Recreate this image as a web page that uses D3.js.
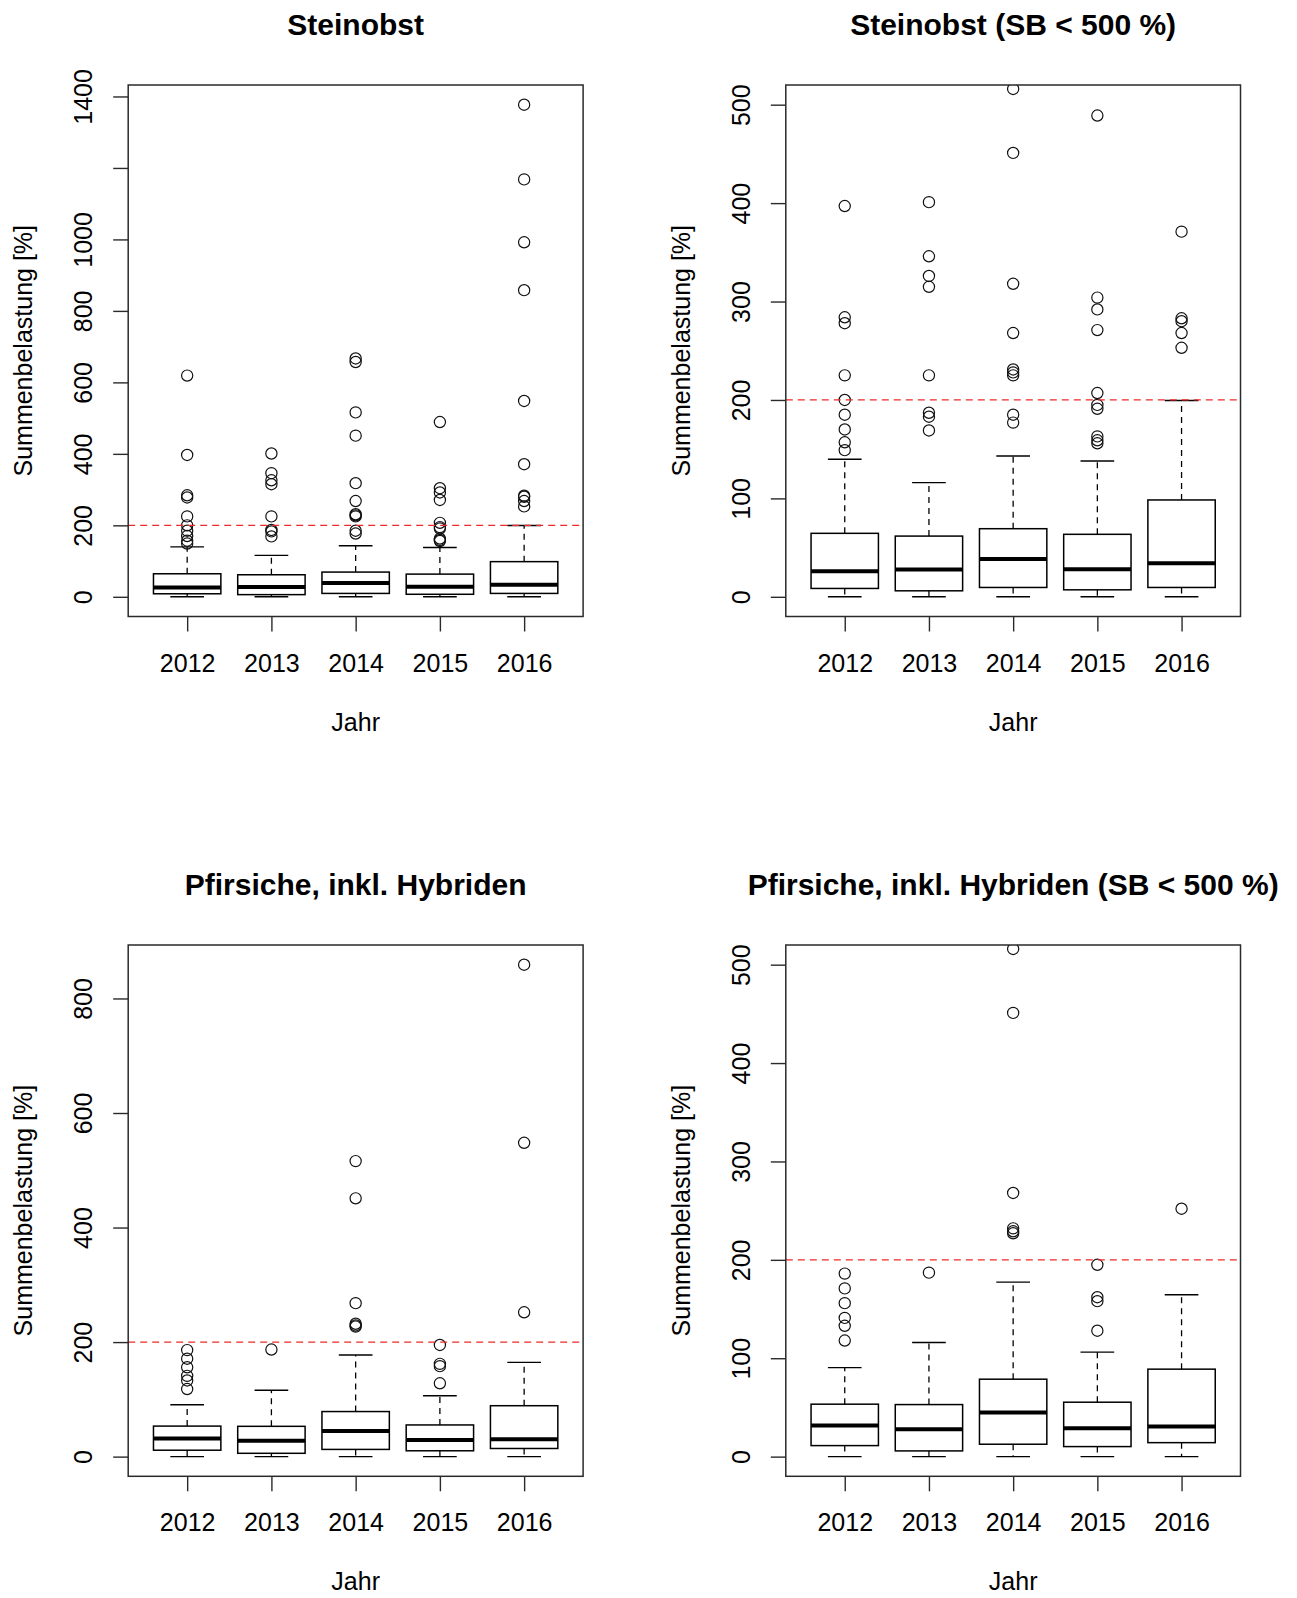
<!DOCTYPE html>
<html><head><meta charset="utf-8">
<script src="https://cdn.jsdelivr.net/npm/d3@7"></script>
<style>body{margin:0;background:#fff}svg{display:block}</style>
</head><body>
<svg id="chart" width="1297" height="1598"></svg>
<script>
// ---------- data ----------
const years = ["2012", "2013", "2014", "2015", "2016"];

// Steinobst
const steinWhiskerLow  = [0, 0, 0, 0, 0];
const steinQ1          = [8.5, 6.1, 9.5, 7.1, 9.5];
const steinMedian      = [26, 27.8, 38.4, 27.9, 34];
const steinQ3          = [64.5, 61.7, 69.2, 63.5, 98.4];
const steinWhiskerHigh = [139.7, 116, 143, 138, 199.4];
const steinOutliers = [
  [619, 397, 284, 278, 225, 200, 185, 170, 157, 149],
  [401, 346, 326, 315, 225, 187, 183, 169],
  [667, 657, 516, 451, 318, 268, 231, 228, 225, 185, 177],
  [489, 304, 292, 271, 207, 195, 191, 163, 159, 156],
  [1377, 1168, 992, 858, 548, 371, 283, 280, 268, 253]
];

// Pfirsiche, inkl. Hybriden
const pfirWhiskerLow  = [0, 0, 0, 0, 0];
const pfirQ1          = [11.2, 5.8, 12.6, 10.2, 14.2];
const pfirMedian      = [31.6, 27.9, 44.8, 28.9, 30.5];
const pfirQ3          = [53.3, 52.9, 78.7, 55.3, 88.9];
const pfirWhiskerHigh = [90.5, 116, 177.4, 106.2, 164.5];
const pfirOutliers = [
  [186, 171, 156, 141, 133, 118],
  [187],
  [516, 451, 268, 232, 229, 227],
  [195, 162, 158, 128],
  [859, 548, 252]
];

const threshold = 200;
const zoomLimit = 500;

const steinTicks = [0, 200, 400, 600, 800, 1000, 1200, 1400];
const steinTickLabels = ["0", "200", "400", "600", "800", "1000", "", "1400"];
const zoomTicks = [0, 100, 200, 300, 400, 500];
const zoomTickLabels = ["0", "100", "200", "300", "400", "500"];
const pfirTicks = [0, 200, 400, 600, 800];
const pfirTickLabels = ["0", "200", "400", "600", "800"];

const titles = [
  "Steinobst",
  "Steinobst (SB < 500 %)",
  "Pfirsiche, inkl. Hybriden",
  "Pfirsiche, inkl. Hybriden (SB < 500 %)"
];
const xLabel = "Jahr";
const yLabel = "Summenbelastung [%]";

// ---------- layout ----------
const colLeft = [128.2, 785.8], colRight = [583.1, 1240.5];
const rowTop = [85, 945], rowBottom = [616.5, 1476.3];
const titleBase = [35, 895];
const FONT = "'Liberation Sans', Arial, Helvetica, sans-serif";

function makeStats(lo, q1, med, q3, hi, out) {
  return years.map((y, i) => ({year: y, idx: i + 1, lo: lo[i], q1: q1[i], med: med[i], q3: q3[i], hi: hi[i], out: out[i]}));
}
const steinStats = makeStats(steinWhiskerLow, steinQ1, steinMedian, steinQ3, steinWhiskerHigh, steinOutliers);
const pfirStats = makeStats(pfirWhiskerLow, pfirQ1, pfirMedian, pfirQ3, pfirWhiskerHigh, pfirOutliers);

const panels = [
  {title: titles[0], stats: steinStats, limit: null, ticks: steinTicks, labels: steinTickLabels, col: 0, row: 0},
  {title: titles[1], stats: steinStats, limit: zoomLimit, ticks: zoomTicks, labels: zoomTickLabels, col: 1, row: 0},
  {title: titles[2], stats: pfirStats, limit: null, ticks: pfirTicks, labels: pfirTickLabels, col: 0, row: 1},
  {title: titles[3], stats: pfirStats, limit: zoomLimit, ticks: zoomTicks, labels: zoomTickLabels, col: 1, row: 1}
];

const svg = d3.select("#chart");
const defs = svg.append("defs");

panels.forEach((p, pi) => {
  const L = colLeft[p.col], R = colRight[p.col], T = rowTop[p.row], B = rowBottom[p.row];
  const hiVal = p.limit != null ? p.limit : d3.max(p.stats, s => d3.max([s.hi, ...s.out]));
  const loVal = 0;
  const ext = 0.04 * (hiVal - loVal);
  const y = d3.scaleLinear().domain([loVal - ext, hiVal + ext]).range([B, T]);
  const n = years.length;
  const xExt = 0.04 * n;
  const x = d3.scaleLinear().domain([0.5 - xExt, n + 0.5 + xExt]).range([L, R]);
  const unit = x(2) - x(1);
  const boxHalf = 0.4 * unit, capHalf = 0.2 * unit;

  const g = svg.append("g");
  const clipId = "clip" + pi;
  defs.append("clipPath").attr("id", clipId)
    .append("rect").attr("x", L).attr("y", T).attr("width", R - L).attr("height", B - T);

  // title
  g.append("text").attr("x", (L + R) / 2).attr("y", titleBase[p.row])
    .attr("text-anchor", "middle").attr("font-family", FONT).attr("font-weight", "bold")
    .attr("font-size", 30).attr("fill", "#000").text(p.title);

  const plot = g.append("g").attr("clip-path", `url(#${clipId})`);

  // boxes
  p.stats.forEach(s => {
    const cx = x(s.idx);
    // whiskers (dashed)
    plot.append("line").attr("x1", cx).attr("x2", cx).attr("y1", y(s.q3)).attr("y2", y(s.hi))
      .attr("stroke", "#000").attr("stroke-width", 1.3).attr("stroke-dasharray", "6,5");
    plot.append("line").attr("x1", cx).attr("x2", cx).attr("y1", y(s.q1)).attr("y2", y(s.lo))
      .attr("stroke", "#000").attr("stroke-width", 1.3).attr("stroke-dasharray", "6,5");
    // staples
    [s.hi, s.lo].forEach(v => {
      plot.append("line").attr("x1", cx - capHalf).attr("x2", cx + capHalf).attr("y1", y(v)).attr("y2", y(v))
        .attr("stroke", "#000").attr("stroke-width", 1.4);
    });
    // box
    plot.append("rect").attr("x", cx - boxHalf).attr("width", 2 * boxHalf)
      .attr("y", y(s.q3)).attr("height", y(s.q1) - y(s.q3))
      .attr("fill", "none").attr("stroke", "#000").attr("stroke-width", 1.5);
    // median
    plot.append("line").attr("x1", cx - boxHalf).attr("x2", cx + boxHalf).attr("y1", y(s.med)).attr("y2", y(s.med))
      .attr("stroke", "#000").attr("stroke-width", 4);
    // outliers
    plot.selectAll(null).data(s.out).enter().append("circle")
      .attr("cx", cx).attr("cy", d => y(d)).attr("r", 5.6)
      .attr("fill", "none").attr("stroke", "#111").attr("stroke-width", 1.2);
  });

  // threshold line
  plot.append("line").attr("x1", L).attr("x2", R).attr("y1", y(threshold)).attr("y2", y(threshold))
    .attr("stroke", "#ee2b2b").attr("stroke-width", 1.3).attr("stroke-dasharray", "7,5");

  // frame
  g.append("rect").attr("x", L).attr("y", T).attr("width", R - L).attr("height", B - T)
    .attr("fill", "none").attr("stroke", "#2a2a2a").attr("stroke-width", 1.5);

  // y axis
  const yAxis = d3.axisLeft(y).tickValues(p.ticks).tickSize(15).tickFormat((d, i) => p.labels[i]);
  const ya = g.append("g").attr("transform", `translate(${L},0)`).call(yAxis);
  ya.select(".domain").remove();
  ya.selectAll(".tick line").attr("stroke", "#2a2a2a").attr("stroke-width", 1.4);
  ya.selectAll(".tick text")
    .attr("x", null).attr("dy", null).attr("text-anchor", "middle")
    .attr("transform", "translate(-36,0) rotate(-90)")
    .attr("font-family", FONT).attr("font-size", 25).attr("fill", "#000");

  // x axis
  const xAxis = d3.axisBottom(x).tickValues(d3.range(1, n + 1)).tickSize(15).tickFormat((d, i) => years[i]);
  const xa = g.append("g").attr("transform", `translate(0,${B})`).call(xAxis);
  xa.select(".domain").remove();
  xa.selectAll(".tick line").attr("stroke", "#2a2a2a").attr("stroke-width", 1.4);
  xa.selectAll(".tick text")
    .attr("y", 55).attr("dy", null)
    .attr("font-family", FONT).attr("font-size", 25).attr("fill", "#000");

  // axis titles
  g.append("text").attr("x", (L + R) / 2).attr("y", B + 114)
    .attr("text-anchor", "middle").attr("font-family", FONT).attr("font-size", 25).attr("fill", "#000")
    .text(xLabel);
  g.append("text")
    .attr("transform", `translate(${L - 96},${(T + B) / 2}) rotate(-90)`)
    .attr("text-anchor", "middle").attr("font-family", FONT).attr("font-size", 25).attr("fill", "#000")
    .text(yLabel);
});
</script>
</body></html>
